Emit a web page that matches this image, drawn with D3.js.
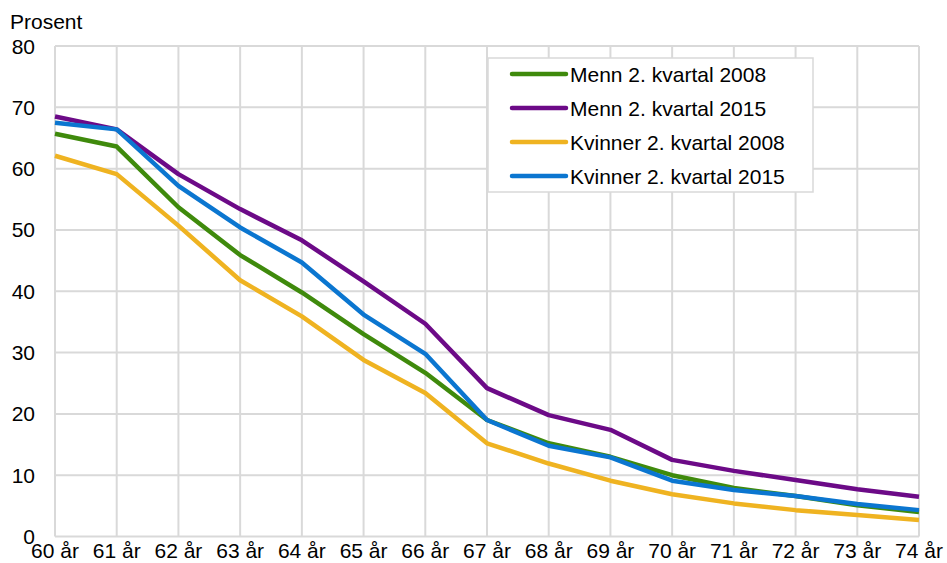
<!DOCTYPE html>
<meta charset="utf-8">
<head>
<style>
body { margin: 0; background: #fff; }
text { font-family: "Liberation Sans", Arial, sans-serif; fill: #000; }
.grid line { stroke: #d9d9d9; stroke-width: 2px; }
.series { fill: none; stroke-width: 4.5px; stroke-linejoin: round; }
</style>
</head>
<body>
<script src="https://cdn.jsdelivr.net/npm/d3@7"></script>
<div id="chart"></div>
<script>
  var ages = ["60 år", "61 år", "62 år", "63 år", "64 år", "65 år", "66 år", "67 år",
              "68 år", "69 år", "70 år", "71 år", "72 år", "73 år", "74 år"];
  var yTicks = [0, 10, 20, 30, 40, 50, 60, 70, 80];

  var menn2008 = [65.7, 63.6, 53.7, 45.9, 39.8, 33.0, 26.7, 19.0, 15.2, 13.0, 10.0, 7.9, 6.6, 5.1, 4.0];
  var menn2015 = [68.5, 66.4, 59.1, 53.4, 48.3, 41.6, 34.7, 24.2, 19.8, 17.4, 12.5, 10.7, 9.2, 7.7, 6.5];
  var kvinner2008 = [62.1, 59.1, 50.7, 41.8, 35.9, 28.8, 23.4, 15.2, 11.9, 9.1, 6.9, 5.4, 4.3, 3.5, 2.7];
  var kvinner2015 = [67.5, 66.4, 57.2, 50.4, 44.7, 36.2, 29.8, 19.0, 14.8, 12.9, 9.1, 7.6, 6.6, 5.3, 4.3];

  var seriesNames = ["Menn 2. kvartal 2008", "Menn 2. kvartal 2015", "Kvinner 2. kvartal 2008", "Kvinner 2. kvartal 2015"];
  var seriesColors = ["#3f8a0c", "#6c0a87", "#efb321", "#0b76d0"];
  var series = [menn2008, menn2015, kvinner2008, kvinner2015];

  var width = 947,
      height = 563,
      margin = {top: 46, right: 28, bottom: 26.5, left: 55};

  var svg = d3.select('#chart')
      .append('svg')
      .attr('width', width)
      .attr('height', height);

  var x = d3.scalePoint()
      .domain(ages)
      .range([margin.left, width - margin.right]);

  var y = d3.scaleLinear()
      .domain([0, 80])
      .range([height - margin.bottom, margin.top]);

  // grid
  var grid = svg.append('g').attr('class', 'grid');
  grid.selectAll('.h')
      .data(yTicks)
      .enter().append('line')
      .attr('x1', margin.left).attr('x2', width - margin.right)
      .attr('y1', function(d) { return y(d); })
      .attr('y2', function(d) { return y(d); });
  grid.selectAll('.v')
      .data(ages)
      .enter().append('line')
      .attr('y1', margin.top).attr('y2', height - margin.bottom)
      .attr('x1', function(d) { return x(d); })
      .attr('x2', function(d) { return x(d); });

  // y labels
  svg.selectAll('.ylab')
      .data(yTicks)
      .enter().append('text')
      .attr('x', 35)
      .attr('y', function(d) { return y(d); })
      .attr('dy', '0.36em')
      .attr('text-anchor', 'end')
      .style('font-size', '21px')
      .text(function(d) { return d; });

  // x labels
  svg.selectAll('.xlab')
      .data(ages)
      .enter().append('text')
      .attr('x', function(d) { return x(d); })
      .attr('y', 558)
      .attr('text-anchor', 'middle')
      .style('font-size', '21px')
      .text(function(d) { return d; });

  svg.append('text')
      .attr('x', 10)
      .attr('y', 29)
      .style('font-size', '21px')
      .text('Prosent');

  var line = d3.line()
      .x(function(d, i) { return x(ages[i]); })
      .y(function(d) { return y(d); });

  svg.selectAll('.series')
      .data(series)
      .enter().append('path')
      .attr('class', 'series')
      .attr('d', line)
      .attr('stroke', function(d, i) { return seriesColors[i]; });

  // legend
  var legend = svg.append('g').attr('transform', 'translate(488,58)');
  legend.append('rect')
      .attr('width', 325).attr('height', 134)
      .attr('fill', '#fff')
      .attr('stroke', '#d9d9d9')
      .attr('stroke-width', 1.5);

  var item = legend.selectAll('.item')
      .data(seriesNames)
      .enter().append('g')
      .attr('transform', function(d, i) { return 'translate(0,' + (16 + i * 34) + ')'; });
  item.append('line')
      .attr('x1', 24).attr('x2', 78)
      .attr('stroke', function(d, i) { return seriesColors[i]; })
      .attr('stroke-width', 4.5)
      .attr('stroke-linecap', 'round');
  item.append('text')
      .attr('x', 82)
      .attr('dy', '0.36em')
      .style('font-size', '21px')
      .text(function(d) { return d; });
</script>
</body>
